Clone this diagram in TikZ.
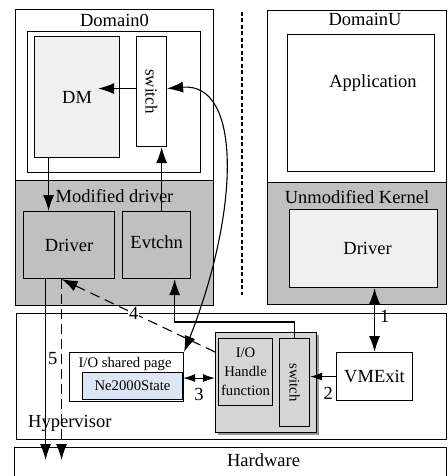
\documentclass[tikz,border=0pt]{standalone}
\usepackage{fontspec}
\setmainfont{Liberation Serif}
\usepackage{tikz}
\definecolor{kgray}{HTML}{C0C0C0}
\definecolor{lgray}{HTML}{F0F0F0}
\definecolor{hgray}{HTML}{D6D6D6}
\definecolor{nblue}{HTML}{DCE6F4}
\tikzstyle{block}=[draw, line width=1.1pt, inner sep=0pt, anchor=north west]
\tikzstyle{txt}=[font=\fontsize{18.5}{21}\selectfont, inner sep=2pt]
\tikzstyle{small}=[font=\fontsize{14.7}{19}\selectfont, inner sep=1pt, align=center]
\tikzstyle{arrow}=[line width=1.1pt,-{Latex[length=16pt,width=11pt]}]
\tikzstyle{darrow}=[line width=1.1pt,{Latex[length=16pt,width=11pt]}-{Latex[length=16pt,width=11pt]}]
\tikzstyle{sarrow}=[line width=1.1pt,-{Latex[length=12pt,width=8pt]}]
\tikzstyle{sdarrow}=[line width=1.1pt,{Latex[length=12pt,width=8pt]}-{Latex[length=12pt,width=8pt]}]
\tikzstyle{sep}=[line width=1.8pt, dash pattern=on 4pt off 2.5pt]
\usetikzlibrary{positioning,arrows.meta,shadows}

\begin{document}
\begin{tikzpicture}[x=1pt,y=-1pt,node distance=2pt]
\useasboundingbox (0,0) rectangle (447,476);
\clip (0,0) rectangle (447,476);
\node (dom0) [block,minimum width=198pt,minimum height=171pt] at (15,9) {};
\node (mod) [block,fill=kgray,minimum width=198pt,minimum height=125pt] at (15,180) {};
\node (dom0in) [block,minimum width=173pt,minimum height=141pt] at (27,31) {};
\node (dm) [block,fill=lgray,minimum width=85pt,minimum height=121pt,below right=5pt and 7pt of dom0in.north west] {};
\node (sw) [block,minimum width=30pt,minimum height=110pt,below left=5pt and 34pt of dom0in.north east,anchor=north east] {};
\node (drv0) [block,fill=kgray,minimum width=91pt,minimum height=67pt,below right=31pt and 8pt of mod.north west] {};
\node (evt) [block,fill=kgray,minimum width=68pt,minimum height=67pt,right=7pt of drv0,anchor=west] {};
\node (domU) [block,minimum width=179pt,minimum height=172pt] at (267,10) {};
\node (unmod) [block,fill=kgray,minimum width=179pt,minimum height=122pt] at (267,182) {};
\node (app) [block,minimum width=147pt,minimum height=137pt,below right=24pt and 20pt of domU.north west] {};
\node (drvU) [block,fill=lgray,minimum width=148pt,minimum height=78pt,below right=27pt and 22pt of unmod.north west] {};
\node (hyp) [block,minimum width=430pt,minimum height=126pt] at (16,313) {};
\node (hw) [block,minimum width=432pt,minimum height=43pt] at (14,447) {};
\node (shared) [block,minimum width=114pt,minimum height=49pt] at (69,352) {};
\node (ne) [block,fill=nblue,minimum width=100pt,minimum height=27pt,below left=20pt and 1pt of shared.north east,anchor=north east] {};
\node (ioh) [block,fill=hgray,minimum width=101pt,minimum height=100pt,general shadow={fill=black!40,shadow xshift=2.5pt,shadow yshift=-2.5pt}] at (215,332) {};
\node (iof) [block,fill=hgray,minimum width=54pt,minimum height=67pt,below right=6pt and 3pt of ioh.north west] {};
\node (sw2) [block,fill=hgray,minimum width=30pt,minimum height=88pt,below left=6pt and 7pt of ioh.north east,anchor=north east] {};
\node (vmx) [block,minimum width=76pt,minimum height=48pt] at (336,352) {};
\coordinate (septop) at (242,12);
\coordinate (sepbot) at (242,295);

\node (d0t) [txt,below=3pt of dom0.north] {Domain0};
\node (dUt) [txt,below=1pt of domU.north,xshift=8pt] {DomainU};
\node (dmt) [txt] at (dm) {DM};
\node (swt) [txt,font=\fontsize{17}{20}\selectfont,rotate=-90] at (sw) {switch};
\node (modt) [txt,below=7pt of mod.north] {Modified driver};
\node (drv0t) [txt] at (drv0) {Driver};
\node (evtt) [txt,yshift=3pt] at (evt) {Evtchn};
\node (appt) [txt,below=38pt of app.north,xshift=12pt] {Application};
\node (unmodt) [txt,below=6pt of unmod.north] {Unmodified Kernel};
\node (drvUt) [txt,xshift=4pt] at (drvU) {Driver};
\node (vmxt) [txt] at (vmx) {VMExit};
\node (hwt) [txt,below=4pt of hw.north,xshift=33pt] {Hardware};
\node (hypt) [txt,above right=6pt and 10pt of hyp.south west] {Hypervisor};
\node (sharedt) [small,below=4pt of shared.north,xshift=-1.5pt] {I/O shared page};
\node (net) [small] at (ne) {Ne2000State};
\node (ioft) [small] at (iof) {I/O\\Handle\\function};
\node (sw2t) [small,rotate=-90] at (sw2) {switch};

\draw[sep] (septop) -- (sepbot);
\draw[arrow] ([yshift=3pt]sw.west) -- ([yshift=3pt,xshift=4pt]sw.west -| dmt.east);
\draw[arrow] ([xshift=-28.5pt]dm.south) -- ([xshift=-28.5pt]dm.south |- drv0.north);
\draw[arrow] ([xshift=5pt]evt.north) -- ([xshift=5pt]evt.north |- sw.south);
\draw[darrow] ([yshift=3pt]sw.east) .. controls (242,82) and (240,210) .. (shared.north east);
\draw[arrow,dash pattern=on 10pt off 6pt] ([yshift=-20pt]ioh.north west) -- node[txt,pos=0.53,fill=white,inner sep=1pt] (n4) {4} ([xshift=-7.5pt]drv0.south);
\draw[arrow] (sw2.north) -- ++(0,-16) -| ([xshift=18pt]evt.south);
\draw[darrow] (vmx.north |- drvU.south) -- node[txt,pos=0.45,right=3pt] (n1) {1} (vmx.north);
\draw[sarrow] (vmx.west) -- node[txt,pos=0.3,below=8pt] (n2) {2} (vmx.west -| sw2.east);
\draw[sdarrow] ([yshift=8pt]ne.east) -- node[txt,below=8pt] (n3) {3} ([yshift=8pt]ne.east -| ioh.west);
\draw[arrow] ([xshift=-23.5pt]drv0.south) -- node[txt,pos=0.44,right=0pt] (n5) {5} ([xshift=-23.5pt,yshift=-13pt]drv0.south |- hw.north);
\draw[arrow,dash pattern=on 10pt off 5pt] ([xshift=-7.5pt]drv0.south) -- ([xshift=-7.5pt,yshift=-13pt]drv0.south |- hw.north);
\end{tikzpicture}
\end{document}
